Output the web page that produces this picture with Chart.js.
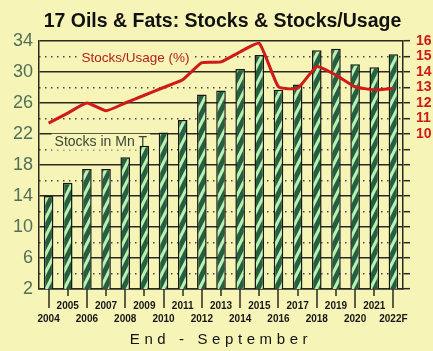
<!DOCTYPE html>
<html>
<head>
<meta charset="utf-8">
<script src="https://cdn.jsdelivr.net/npm/chart.js@4/dist/chart.umd.min.js"></script>
<style>
  html, body { margin: 0; padding: 0; background: #f6f4b6; }
  canvas { display: block; }
</style>
</head>
<body>
<canvas id="oils" width="433" height="351"></canvas>
<script>
// Marketing years, end of September
const years = ['2004', '2005', '2006', '2007', '2008', '2009', '2010', '2011', '2012', '2013',
               '2014', '2015', '2016', '2017', '2018', '2019', '2020', '2021', '2022F'];
// Ending stocks, million tonnes
const stocks = [14.0, 15.7, 17.5, 17.5, 19.0, 20.5, 22.2, 23.8, 27.1, 27.6,
                30.4, 32.2, 27.7, 28.4, 32.8, 33.0, 31.0, 30.6, 32.3];
// Stocks as % of usage
const stocksUsage = [10.7, 11.35, 12.0, 11.5, 12.0, 12.5, 13.0, 13.5, 14.6, 14.65,
                     15.3, 15.85, 13.05, 12.95, 14.35, 13.8, 13.05, 12.85, 12.95];

const stockAxis = { min: 2, max: 34, step: 4 };
const ratioAxis = { min: 0, max: 16, step: 1, firstLabel: 10 };

const FONT = "'Liberation Sans', Arial, sans-serif";
const PAPER = '#f6f4b6';
const INK = '#2b2a22';
const RED = '#d01a1a';

const canvas = document.getElementById('oils');
const ctx = canvas.getContext('2d');

// green bars with light diagonal stripes
function stripes() {
  const w = 9, h = 18;
  const tile = document.createElement('canvas');
  tile.width = w;
  tile.height = h;
  const g = tile.getContext('2d');
  g.fillStyle = '#22603f';
  g.fillRect(0, 0, w, h);
  g.fillStyle = '#bfeeb2';
  for (let k = -1; k <= 2; k++) {
    const y0 = k * h;
    g.beginPath();
    g.moveTo(0, y0);
    g.lineTo(w, y0 - h);
    g.lineTo(w, y0 - h + 7);
    g.lineTo(0, y0 + 7);
    g.closePath();
    g.fill();
  }
  return ctx.createPattern(tile, 'repeat');
}

const backdrop = {
  id: 'backdrop',
  beforeDraw(chart) {
    const c = chart.ctx;
    c.save();
    c.fillStyle = PAPER;
    c.fillRect(0, 0, chart.width, chart.height);
    c.restore();
  }
};

// in-plot captions for the two series
const captions = {
  id: 'captions',
  beforeDatasetsDraw(chart) {
    const c = chart.ctx;
    const { x, y } = chart.scales;
    const put = (text, xi, yv, color, size) => {
      const px = x.getPixelForValue(xi);
      const py = y.getPixelForValue(yv);
      c.font = `${size}px ${FONT}`;
      const w = c.measureText(text).width;
      c.fillStyle = PAPER;
      c.fillRect(px - w / 2 - 3, py - size / 2 - 1, w + 6, size + 2);
      c.fillStyle = color;
      c.textAlign = 'center';
      c.textBaseline = 'middle';
      c.fillText(text, px, py);
    };
    c.save();
    put('Stocks/Usage (%)', 4.54, 31.8, '#b3201c', 13.5);
    put('Stocks in Mn T', 2.73, 21.0, '#38463c', 14);
    c.restore();
  }
};

// long ticks under even years, short under odd years, plus the axis caption
const yearTicks = {
  id: 'yearTicks',
  afterDraw(chart) {
    const c = chart.ctx;
    const { chartArea } = chart;
    const x = chart.scales.x;
    c.save();
    c.strokeStyle = INK;
    c.lineWidth = 1.5;
    years.forEach((_, i) => {
      const px = Math.round(x.getPixelForValue(i));
      const len = i % 2 === 0 ? 19 : 7;
      c.beginPath();
      c.moveTo(px, chartArea.bottom);
      c.lineTo(px, chartArea.bottom + len);
      c.stroke();
    });
    c.font = `15px ${FONT}`;
    c.letterSpacing = '4.6px';
    c.fillStyle = '#141414';
    c.textAlign = 'center';
    c.textBaseline = 'middle';
    c.fillText('End - September', (chartArea.left + chartArea.right) / 2, 340);
    c.restore();
  }
};

new Chart(ctx, {
  data: {
    labels: years,
    datasets: [{
      type: 'line',
      label: 'Stocks/Usage (%)',
      data: stocksUsage,
      yAxisID: 'y1',
      borderColor: RED,
      borderWidth: 3,
      pointRadius: 0,
      tension: 0.15,
      order: 0
    }, {
      type: 'bar',
      label: 'Stocks in Mn T',
      data: stocks,
      yAxisID: 'y',
      backgroundColor: stripes(),
      borderColor: '#151a14',
      borderWidth: 1.5,
      categoryPercentage: 1,
      barPercentage: 0.5,
      order: 1
    }]
  },
  options: {
    responsive: false,
    animation: false,
    layout: { padding: { left: 12, right: 0, top: 0, bottom: 0 } },
    plugins: {
      legend: { display: false },
      tooltip: { enabled: false },
      title: {
        display: true,
        text: '17 Oils & Fats: Stocks & Stocks/Usage',
        color: '#111',
        font: { family: FONT, size: 19.5, weight: 'bold', lineHeight: 22 / 19.5 },
        padding: { top: 11, bottom: 8 }
      }
    },
    scales: {
      x: {
        grid: { display: false, drawTicks: false },
        border: { display: true, color: INK, width: 1.5 },
        ticks: {
          autoSkip: false,
          minRotation: 0,
          maxRotation: 0,
          padding: 11,
          color: '#161616',
          font: { family: FONT, size: 10, weight: 'bold', lineHeight: 1.25 },
          callback: (v, i) => i % 2 === 1 ? [years[i], ''] : ['', years[i]]
        },
        afterFit(scale) { scale.height = 62; }
      },
      y: {
        position: 'left',
        min: stockAxis.min,
        max: stockAxis.max,
        grid: { color: INK, lineWidth: 1.5, drawTicks: false },
        border: { display: true, color: INK, width: 1.5 },
        ticks: {
          autoSkip: false,
          stepSize: stockAxis.step,
          padding: 6,
          color: '#51705a',
          font: { family: FONT, size: 18 }
        },
        afterFit(scale) { scale.width = 27; }
      },
      y1: {
        position: 'right',
        min: ratioAxis.min,
        max: ratioAxis.max,
        grid: {
          drawOnChartArea: true,
          color: c => c.tick && c.tick.value % 2 === 1 ? '#4a4a40' : 'rgba(0,0,0,0)',
          lineWidth: 1.4,
          tickLength: 7,
          tickColor: INK,
          tickWidth: 1.5
        },
        border: {
          display: true,
          color: INK,
          width: 1.5,
          dash: c => c.type === 'tick' ? [1.5, 4.5] : []
        },
        ticks: {
          autoSkip: false,
          stepSize: ratioAxis.step,
          padding: 6,
          color: RED,
          font: { family: FONT, size: 14, weight: 'bold' },
          callback: v => v >= ratioAxis.firstLabel ? v : ''
        },
        afterFit(scale) { scale.width = 30; }
      }
    }
  },
  plugins: [backdrop, captions, yearTicks]
});
</script>
</body>
</html>
